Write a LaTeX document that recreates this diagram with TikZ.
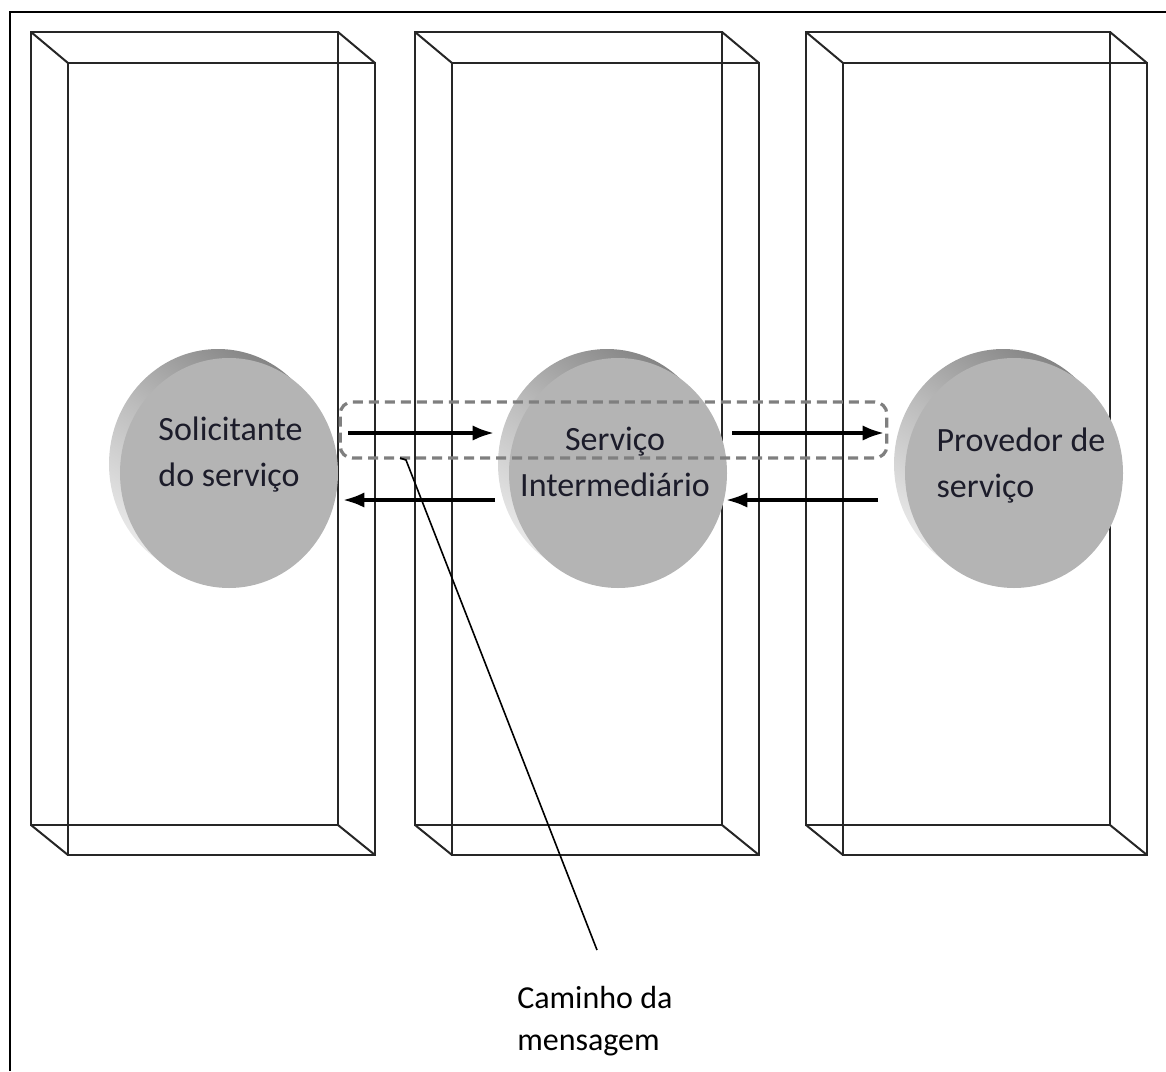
\documentclass[tikz,border=0pt]{standalone}
\usepackage{fontspec}
\setmainfont{Carlito}
\usetikzlibrary{shapes.geometric,arrows.meta}
\definecolor{discface}{HTML}{B4B4B4}
\definecolor{discrim}{HTML}{858585}
\definecolor{discrimlight}{HTML}{EAEAEA}
\definecolor{labeltext}{HTML}{1C1C2A}
\definecolor{pathgray}{HTML}{7F7F7F}
\tikzset{
  frameline/.style={line width=1.7pt,black},
  boxline/.style={line width=1.5pt,black!85},
  discrimshape/.style={ellipse,draw=none,minimum width=163.5pt,minimum height=172.5pt,
    top color=discrim,bottom color=discrimlight,middle color=discrim!45!discrimlight,shading angle=-35},
  discface/.style={ellipse,draw=none,fill=discface,minimum width=163.5pt,minimum height=172.5pt},
  disclabel/.style={inner sep=0pt,text=labeltext,font=\fontsize{25.5}{34.5}\selectfont},
  msgarrow/.style={line width=2.6pt,black,-{Latex[length=16pt,width=11.5pt]}},
  msgpath/.style={draw=pathgray,dash pattern=on 7.5pt off 4.5pt,line width=2.4pt,rounded corners=9pt,
    minimum width=410pt,minimum height=42pt,inner sep=0pt},
  pointer/.style={line width=1.2pt,black}
}
\begin{document}
\begin{tikzpicture}[x=0.75pt,y=-0.75pt]
\useasboundingbox (0,0) rectangle (1166,1071);
% page frame
\draw[frameline] (10,1071) -- (10,12) -- (1166,12);
% wireframe boxes: back rectangle, front rectangle and corner edges
\foreach \bx/\bw in {31/307,415/307,806/304}{
  \draw[boxline] (\bx,32) rectangle ++(\bw,793);
  \draw[boxline] (\bx+37,63) rectangle ++(\bw,792);
  \draw[boxline] (\bx,32) -- (\bx+37,63);
  \draw[boxline] (\bx+\bw,32) -- (\bx+\bw+37,63);
  \draw[boxline] (\bx,825) -- (\bx+37,855);
  \draw[boxline] (\bx+\bw,825) -- (\bx+\bw+37,855);
}
% discs: rim behind, face in front
\node[discrimshape] (rim1) at (218,464) {};
\node[discface] (req) at (229,473) {};
\node[discrimshape] (rim2) at (607,464) {};
\node[discface] (mid) at (618,473) {};
\node[discrimshape] (rim3) at (1003,464) {};
\node[discface] (prov) at (1014,473) {};
\node[disclabel,align=left] (reqtext) at (230.5,455) {Solicitante\\do serviço};
\node[disclabel,align=center] (midtext) at (615,462) {Serviço\\Intermediário};
\node[disclabel,align=left] (provtext) at (1021,466) {Provedor de\\serviço};
% message arrows
\coordinate (a1s) at (348,433); \coordinate (a1e) at (494,433);
\coordinate (a2s) at (732,433); \coordinate (a2e) at (884,433);
\coordinate (b1s) at (495,500); \coordinate (b1e) at (343,500);
\coordinate (b2s) at (878,500); \coordinate (b2e) at (726,500);
\draw[msgarrow] (a1s) -- (a1e);
\draw[msgarrow] (a2s) -- (a2e);
\draw[msgarrow] (b1s) -- (b1e);
\draw[msgarrow] (b2s) -- (b2e);
% message path outline
\node[msgpath] (msg) at (613.5,430) {};
% callout
\coordinate (calloutstart) at (400,458);
\coordinate (calloutend) at (597,950);
\draw[pointer] (calloutstart) -- (406,460) -- (calloutend);
\node[disclabel,text=black,anchor=west,align=left,font=\fontsize{24}{32}\selectfont] (caption) at (517,1021) {Caminho da\\mensagem};
\end{tikzpicture}
\end{document}
